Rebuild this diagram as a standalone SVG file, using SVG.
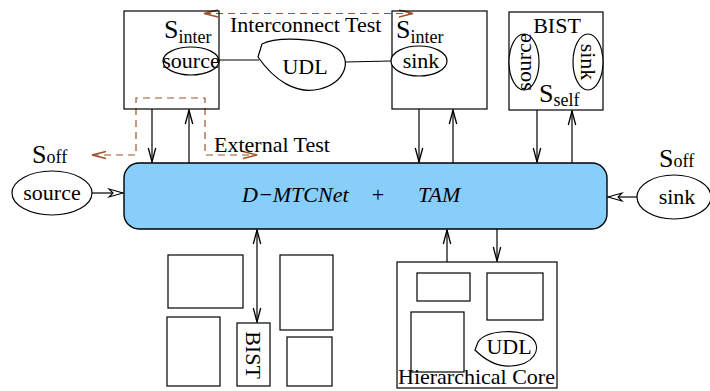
<svg xmlns="http://www.w3.org/2000/svg" width="710" height="391" viewBox="0 0 710 391">
  <style>
    text { font-family: "Liberation Serif", "DejaVu Serif", serif; fill: #000; }
    .lbl { font-size: 22px; }
    .big { font-size: 26px; }
    .sub { font-size: 18px; }
    .box { fill: none; stroke: #000; stroke-width: 1.2; }
    .wire { fill: none; stroke: #000; stroke-width: 1.2; }
    .dash { fill: none; stroke: #A0522D; stroke-width: 1.2; stroke-dasharray: 7 5; }
    .oval { fill: #fff; stroke: #000; stroke-width: 1.2; }
  </style>
  <defs>
    <marker id="arr" markerUnits="userSpaceOnUse" markerWidth="16" markerHeight="10" refX="15" refY="5" orient="auto-start-reverse">
      <path d="M1,1.3 L15,5 L1,8.7" fill="none" stroke="#000" stroke-width="1.3"/>
    </marker>
    <marker id="arrB" markerUnits="userSpaceOnUse" markerWidth="16" markerHeight="10" refX="15" refY="5" orient="auto-start-reverse">
      <path d="M1,1.5 L15,5 L1,8.5" fill="none" stroke="#A0522D" stroke-width="1.3"/>
    </marker>
    <marker id="hollow" markerUnits="userSpaceOnUse" markerWidth="18" markerHeight="12" refX="16" refY="6" orient="auto">
      <path d="M2,2 L16,6 L2,10 L6,6 Z" fill="#fff" stroke="#000" stroke-width="1.1"/>
    </marker>
  </defs>

  <!-- connectors -->
  <g id="connectors">
    <!-- interconnect wire through the UDL -->
    <line class="wire" x1="219" y1="60" x2="259" y2="60"/>
    <line class="wire" x1="345" y1="62" x2="391" y2="61"/>
    <!-- core to network links -->
    <line class="wire" x1="152" y1="109" x2="152" y2="162" marker-end="url(#arr)"/>
    <line class="wire" x1="189" y1="163" x2="189" y2="110" marker-end="url(#arr)"/>
    <line class="wire" x1="419" y1="109" x2="419" y2="162" marker-end="url(#arr)"/>
    <line class="wire" x1="453" y1="163" x2="453" y2="110" marker-end="url(#arr)"/>
    <line class="wire" x1="537" y1="110" x2="537" y2="162" marker-end="url(#arr)"/>
    <line class="wire" x1="572" y1="163" x2="572" y2="111" marker-end="url(#arr)"/>
    <line class="wire" x1="257" y1="230" x2="257" y2="322" marker-start="url(#arr)" marker-end="url(#arr)"/>
    <line class="wire" x1="447" y1="262" x2="447" y2="230" marker-end="url(#arr)"/>
    <line class="wire" x1="497" y1="229" x2="497" y2="261" marker-end="url(#arr)"/>
    <!-- off-chip source / sink -->
    <line class="wire" x1="92" y1="193" x2="123" y2="193" marker-end="url(#hollow)"/>
    <line class="wire" x1="637" y1="197" x2="608" y2="197" marker-end="url(#hollow)"/>
    <!-- test paths -->
    <line class="dash" x1="204" y1="13.5" x2="413" y2="13.5" marker-start="url(#arrB)" marker-end="url(#arrB)"/>
    <polyline class="dash" points="92,155 136,155 136,98 205,98 205,155 257,155" marker-start="url(#arrB)" marker-end="url(#arrB)"/>
  </g>

  <!-- interconnect source core -->
  <g id="core-src">
    <rect class="box" x="124" y="11" width="95" height="98"/>
    <text class="big" x="164" y="38">S<tspan class="sub" dy="5">inter</tspan></text>
    <ellipse class="oval" cx="191" cy="61" rx="28" ry="14"/>
    <text class="lbl" x="191" y="68" text-anchor="middle">source</text>
  </g>

  <text class="lbl" x="230" y="32">Interconnect Test</text>

  <g id="udl">
    <path class="oval" d="M262,44 C275,37 320,37 338,49 C352,60 346,82 320,89 C296,95 274,80 258,57 L262,44 Z"/>
    <text class="lbl" x="305" y="74" text-anchor="middle">UDL</text>
  </g>

  <!-- interconnect sink core -->
  <g id="core-sink">
    <rect class="box" x="392" y="11" width="95" height="98"/>
    <text class="big" x="396" y="38">S<tspan class="sub" dy="5">inter</tspan></text>
    <ellipse class="oval" cx="419" cy="61" rx="28" ry="15"/>
    <text class="lbl" x="421" y="68" text-anchor="middle">sink</text>
  </g>

  <!-- self-testing core -->
  <g id="core-bist">
    <rect class="box" x="509" y="12" width="94" height="98"/>
    <text class="lbl" x="557" y="33" text-anchor="middle">BIST</text>
    <ellipse class="oval" cx="524" cy="62" rx="15" ry="28"/>
    <text class="lbl" transform="translate(531,62) rotate(-90)" text-anchor="middle">source</text>
    <ellipse class="oval" cx="588" cy="62" rx="15" ry="28"/>
    <text class="lbl" transform="translate(581,62) rotate(90)" text-anchor="middle">sink</text>
    <text class="big" x="539" y="102">S<tspan class="sub" dy="4">self</tspan></text>
  </g>

  <text class="lbl" x="214" y="152">External Test</text>

  <!-- off-chip source -->
  <g id="off-src">
    <text class="big" x="32" y="163">S<tspan class="sub">off</tspan></text>
    <ellipse class="oval" cx="52" cy="193" rx="40" ry="22"/>
    <text class="lbl" x="52" y="200" text-anchor="middle">source</text>
  </g>

  <!-- off-chip sink -->
  <g id="off-sink">
    <text class="big" x="659" y="167">S<tspan class="sub">off</tspan></text>
    <ellipse class="oval" cx="674" cy="197" rx="37" ry="22"/>
    <text class="lbl" x="677" y="204" text-anchor="middle">sink</text>
  </g>

  <!-- test network -->
  <g id="network">
    <rect x="124" y="163" width="483" height="66" rx="15" ry="15" fill="#87CEFA" stroke="#000" stroke-width="1.4"/>
    <text class="lbl" x="242" y="202" font-style="italic">D−MTCNet</text>
    <text class="lbl" x="378" y="202" text-anchor="middle">+</text>
    <text class="lbl" x="418" y="202" font-style="italic">TAM</text>
  </g>

  <!-- flat cores -->
  <g id="flat-cores">
    <rect class="box" x="168" y="255" width="75" height="53"/>
    <rect class="box" x="167" y="317" width="53" height="69"/>
    <rect class="box" x="280" y="255" width="53" height="75"/>
    <rect class="box" x="287" y="337" width="45" height="49"/>
  </g>
  <g id="bist-core">
    <rect class="box" x="237" y="323" width="33" height="63"/>
    <text class="lbl" transform="translate(246,355) rotate(90)" text-anchor="middle">BIST</text>
  </g>

  <!-- hierarchical core -->
  <g id="hier-core">
    <rect class="box" x="397" y="262" width="160" height="126"/>
    <rect class="box" x="417" y="273" width="53" height="28"/>
    <rect class="box" x="487" y="273" width="56" height="47"/>
    <rect class="box" x="411" y="312" width="53" height="60"/>
    <path class="oval" d="M478,342 C486,330 520,328 532,338 C543,349 533,365 511,366 C495,367 483,358 475,350 L478,342 Z"/>
    <text class="lbl" x="509" y="354" text-anchor="middle">UDL</text>
    <text class="lbl" x="398" y="384">Hierarchical Core</text>
  </g>
</svg>
